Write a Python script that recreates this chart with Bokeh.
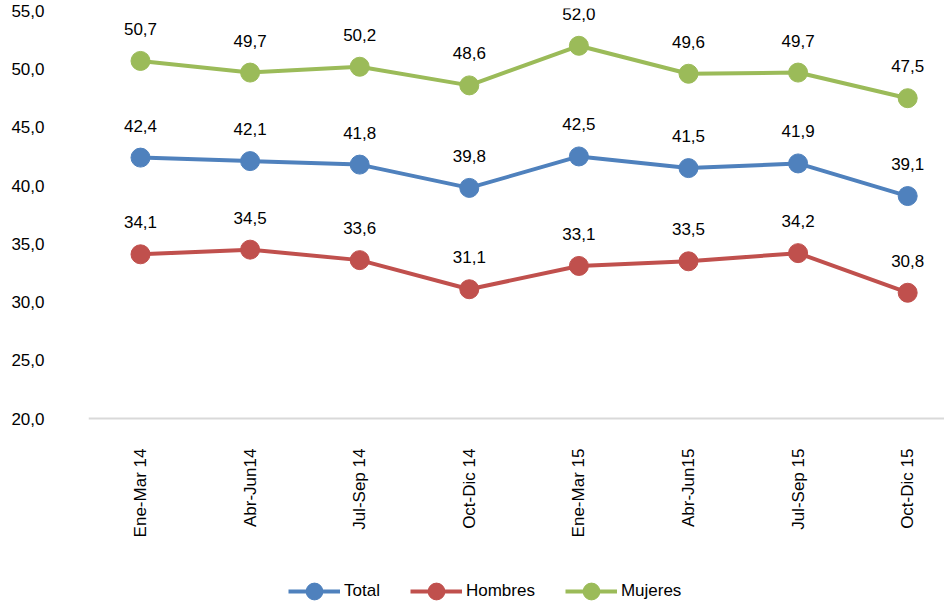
import math
from bokeh.plotting import figure
from bokeh.models import ColumnDataSource, Range1d, FixedTicker, Legend, LegendItem, CustomJSTickFormatter
from bokeh.core.properties import value
from bokeh.embed import file_html
from bokeh.resources import INLINE

categories = ["Ene-Mar 14", "Abr-Jun14", "Jul-Sep 14", "Oct-Dic 14",
              "Ene-Mar 15", "Abr-Jun15", "Jul-Sep 15", "Oct-Dic 15"]
total = [42.4, 42.1, 41.8, 39.8, 42.5, 41.5, 41.9, 39.1]
hombres = [34.1, 34.5, 33.6, 31.1, 33.1, 33.5, 34.2, 30.8]
mujeres = [50.7, 49.7, 50.2, 48.6, 52.0, 49.6, 49.7, 47.5]
y_ticks = [20, 25, 30, 35, 40, 45, 50, 55]
y_base = 20

series = [("Total", total, "#4F81BD"),
          ("Hombres", hombres, "#C0504D"),
          ("Mujeres", mujeres, "#9BBB59")]

FONT = "Liberation Sans"

p = figure(width=944, height=602, output_backend="svg", toolbar_location=None,
           x_range=Range1d(-0.4745, 7.336), y_range=Range1d(4.21, 55.2),
           min_border_left=88, min_border_right=0, min_border_top=8,
           min_border_bottom=0)
p.outline_line_color = None
p.xgrid.grid_line_color = None
p.ygrid.grid_line_color = None

xs = list(range(len(categories)))

# x axis, drawn at the 20,0 baseline inside the frame
p.xaxis.fixed_location = y_base
p.xaxis.ticker = FixedTicker(ticks=xs)
p.xaxis.major_label_overrides = {i: c for i, c in enumerate(categories)}
p.xaxis.major_label_orientation = math.pi / 2
p.xaxis.major_label_text_baseline = "hanging"
p.xaxis.axis_line_color = "#D9D9D9"
p.xaxis.axis_line_width = 2
p.xaxis.major_tick_line_color = None
p.xaxis.minor_tick_line_color = None
p.xaxis.major_label_standoff = 24
p.xaxis.major_label_text_font = FONT
p.xaxis.major_label_text_font_size = "17px"
p.xaxis.major_label_text_color = "#000000"

# y axis
p.yaxis.ticker = FixedTicker(ticks=y_ticks)
p.yaxis.formatter = CustomJSTickFormatter(code="return tick.toFixed(1).replace('.', ',');")
p.yaxis.axis_line_color = None
p.yaxis.major_tick_line_color = None
p.yaxis.minor_tick_line_color = None
p.yaxis.major_label_standoff = 38
p.yaxis.major_label_text_baseline = "hanging"
p.yaxis.major_label_text_font = FONT
p.yaxis.major_label_text_font_size = "17px"
p.yaxis.major_label_text_color = "#000000"

items = []
for name, vals, color in series:
    src = ColumnDataSource(dict(x=xs, y=vals,
                                lab=[f"{v:.1f}".replace(".", ",") for v in vals]))
    ln = p.line("x", "y", source=src, line_color=color, line_width=4)
    sc = p.scatter("x", "y", source=src, size=19, fill_color=color, line_color=color)
    p.text("x", "y", text="lab", source=src, y_offset=-32, text_align="center",
           text_baseline="middle", text_font=value(FONT), text_font_size="17px",
           text_color="#000000")
    items.append(LegendItem(label=name, renderers=[ln, sc]))

legend = Legend(items=items, orientation="horizontal", location=(200, -10),
                glyph_width=52, glyph_height=42, label_standoff=4, spacing=30,
                padding=0, margin=0, border_line_color=None,
                background_fill_alpha=0, label_text_font=FONT,
                label_text_font_size="17px", label_text_color="#000000",
                label_height=20)
p.add_layout(legend, "center")

open("out.html", "w").write(file_html(p, INLINE))
